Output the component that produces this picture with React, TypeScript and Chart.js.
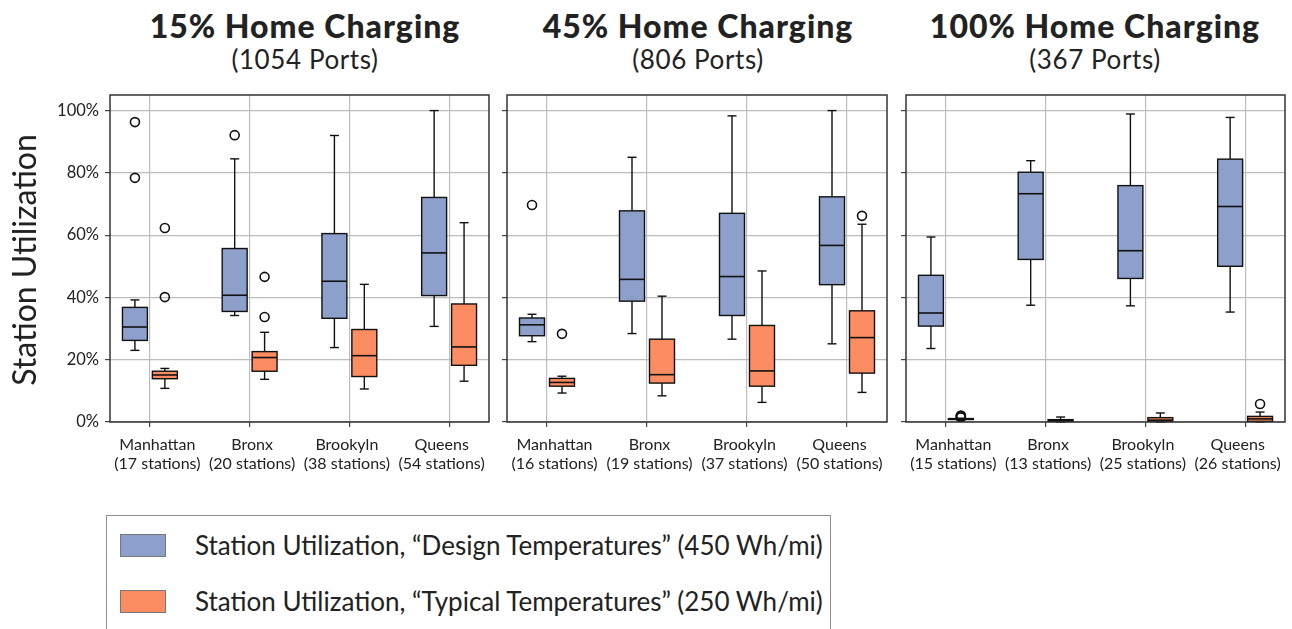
import React, { useEffect, useRef } from 'react';
import { Chart, registerables } from 'chart.js';

Chart.register(...registerables);

// ---------- DATA ----------
const districts = ['Manhattan', 'Bronx', 'Brookyln', 'Queens'];
const panelTitles = ['15% Home Charging', '45% Home Charging', '100% Home Charging'];
const panelPorts = ['(1054 Ports)', '(806 Ports)', '(367 Ports)'];
const stations15 = [17, 20, 38, 54];
const stations45 = [16, 19, 37, 50];
const stations100 = [15, 13, 25, 26];
const yTicks = [0, 20, 40, 60, 80, 100];

// box stats: [low whisker, Q1, median, Q3, high whisker] in %
const design15 = [
  [23.0, 26.2, 30.5, 36.8, 39.2],
  [34.2, 35.5, 40.7, 55.7, 84.5],
  [23.9, 33.3, 45.2, 60.5, 92.0],
  [30.7, 40.6, 54.3, 72.1, 100],
];
const typical15 = [
  [10.8, 13.9, 15.1, 16.3, 17.2],
  [13.7, 16.3, 20.7, 22.6, 28.8],
  [10.6, 14.6, 21.3, 29.7, 44.2],
  [13.1, 18.2, 24.1, 37.9, 64.0],
];
const designOut15 = [[96.3, 78.4], [92.1], [], []];
const typicalOut15 = [[62.3, 40.1], [46.6, 33.7], [], []];

const design45 = [
  [25.8, 27.7, 31.2, 33.4, 34.6],
  [28.4, 38.8, 45.8, 67.8, 85.0],
  [26.6, 34.2, 46.7, 67.0, 98.3],
  [25.1, 44.1, 56.7, 72.3, 100],
];
const typical45 = [
  [9.3, 11.5, 12.7, 14.0, 14.7],
  [8.4, 12.5, 15.2, 26.6, 40.4],
  [6.3, 11.5, 16.4, 31.0, 48.5],
  [9.5, 15.7, 27.1, 35.7, 63.5],
];
const designOut45 = [[69.7], [], [], []];
const typicalOut45 = [[28.3], [], [], [66.2]];

const design100 = [
  [23.6, 30.8, 35.0, 47.1, 59.4],
  [37.5, 52.2, 73.3, 80.2, 83.9],
  [37.3, 46.1, 55.0, 75.9, 98.9],
  [35.3, 50.0, 69.2, 84.4, 97.8],
];
const typical100 = [
  [0.6, 0.8, 1.0, 1.1, 1.2],
  [0.0, 0.2, 0.4, 0.75, 1.6],
  [0.0, 0.2, 0.6, 1.4, 2.9],
  [0.0, 0.2, 1.0, 1.8, 3.2],
];
const designOut100 = [[], [], [], []];
const typicalOut100 = [[1.5, 1.7, 1.9, 2.1], [], [], [5.8]];

const legendLabels = [
  'Station Utilization, \u201cDesign Temperatures\u201d (450 Wh/mi)',
  'Station Utilization, \u201cTypical Temperatures\u201d (250 Wh/mi)',
];

// ---------- STYLE ----------
const BLUE = '#8DA0CB';
const ORANGE = '#FC8D62';
const FONT = "Lato, 'Noto Sans', sans-serif";
const TEXT = '#222';
const BOX_W = 0.25;
const CAP_HALF = 0.045;
const OFFSET = 0.15;

const panels = [
  { design: design15, typical: typical15, dOut: designOut15, tOut: typicalOut15, stations: stations15 },
  { design: design45, typical: typical45, dOut: designOut45, tOut: typicalOut45, stations: stations45 },
  { design: design100, typical: typical100, dOut: designOut100, tOut: typicalOut100, stations: stations100 },
];

const layouts = [
  { left: 0, width: 500, yWidth: 110, rightPad: 11, titleX: 305 },
  { left: 497, width: 401, yWidth: 10, rightPad: 11, titleX: 698 },
  { left: 896, width: 396, yWidth: 10, rightPad: 7, titleX: 1095 },
];
const CANVAS_TOP = 88;
const CANVAS_H = 392;

function makeBoxPlugin(p: number) {
  const groups = [
    { boxes: panels[p].design, offset: -OFFSET, color: BLUE },
    { boxes: panels[p].typical, offset: OFFSET, color: ORANGE },
  ];
  return {
    id: 'boxes' + p,
    beforeDatasetsDraw(chart: any) {
      const { ctx } = chart;
      const x = chart.scales.x;
      const y = chart.scales.y;
      ctx.save();
      ctx.strokeStyle = '#111';
      ctx.lineWidth = 1.4;
      const line = (x1: number, y1: number, x2: number, y2: number) => {
        ctx.beginPath();
        ctx.moveTo(x1, y1);
        ctx.lineTo(x2, y2);
        ctx.stroke();
      };
      for (const g of groups) {
        g.boxes.forEach((b: number[], i: number) => {
          const [lo, q1, med, q3, hi] = b;
          const cx = i + 1 + g.offset;
          const xc = x.getPixelForValue(cx);
          const xl = x.getPixelForValue(cx - BOX_W / 2);
          const xr = x.getPixelForValue(cx + BOX_W / 2);
          const cl = x.getPixelForValue(cx - CAP_HALF);
          const cr = x.getPixelForValue(cx + CAP_HALF);
          const yLo = y.getPixelForValue(lo);
          const yQ1 = y.getPixelForValue(q1);
          const yMed = y.getPixelForValue(med);
          const yQ3 = y.getPixelForValue(q3);
          const yHi = y.getPixelForValue(hi);
          line(xc, yQ3, xc, yHi);
          line(cl, yHi, cr, yHi);
          line(xc, yQ1, xc, yLo);
          line(cl, yLo, cr, yLo);
          ctx.fillStyle = g.color;
          ctx.fillRect(xl, yQ3, xr - xl, yQ1 - yQ3);
          ctx.strokeRect(xl, yQ3, xr - xl, yQ1 - yQ3);
          ctx.lineWidth = 1.6;
          line(xl, yMed, xr, yMed);
          ctx.lineWidth = 1.4;
        });
      }
      ctx.restore();
    },
    afterDraw(chart: any) {
      const { ctx, chartArea: a } = chart;
      ctx.save();
      ctx.strokeStyle = '#333';
      ctx.lineWidth = 1.5;
      ctx.strokeRect(a.left, a.top, a.right - a.left, a.bottom - a.top);
      ctx.restore();
    },
  };
}

function outlierPoints(vals: number[][], offset: number) {
  const pts: { x: number; y: number }[] = [];
  vals.forEach((arr, i) => arr.forEach((v) => pts.push({ x: i + 1 + offset, y: v })));
  return pts;
}

function Panel({ p }: { p: number }) {
  const ref = useRef<HTMLCanvasElement>(null);
  const L = layouts[p];
  useEffect(() => {
    const pd = panels[p];
    const gridColor = '#bdbdbd';
    const noPad = (s: any) => {
      s.paddingTop = 0;
      s.paddingBottom = 0;
      s.paddingLeft = 0;
      s.paddingRight = 0;
    };
    const chart = new Chart(ref.current as HTMLCanvasElement, {
      type: 'scatter',
      data: {
        datasets: [
          {
            data: outlierPoints(pd.dOut, -OFFSET),
            pointRadius: 4.5,
            pointBorderWidth: 1.6,
            pointBorderColor: '#111',
            pointBackgroundColor: 'rgba(0,0,0,0)',
          },
          {
            data: outlierPoints(pd.tOut, OFFSET),
            pointRadius: 4.5,
            pointBorderWidth: 1.6,
            pointBorderColor: '#111',
            pointBackgroundColor: 'rgba(0,0,0,0)',
          },
        ],
      },
      options: {
        responsive: false,
        animation: false,
        layout: { padding: { top: 7, right: L.rightPad, left: 0, bottom: 0 } },
        plugins: { legend: { display: false }, tooltip: { enabled: false } },
        scales: {
          x: {
            type: 'linear',
            position: 'bottom',
            weight: 0,
            min: 0.6,
            max: 4.4,
            afterBuildTicks: (s: any) => {
              s.ticks = [1, 2, 3, 4].map((v) => ({ value: v }));
            },
            afterFit: (s: any) => {
              s.height = 5;
              noPad(s);
            },
            ticks: { display: false },
            grid: { color: gridColor, lineWidth: 1.2, tickColor: '#444', tickLength: 5, drawTicks: true },
            border: { display: false },
          },
          x2: {
            type: 'category',
            position: 'bottom',
            weight: 1,
            labels: districts.map((d, i) => [d, `(${pd.stations[i]} stations)`]),
            offset: true,
            afterFit: (s: any) => {
              s.height = 53;
              noPad(s);
            },
            ticks: { font: { family: FONT, size: 16, lineHeight: 1.2 }, color: TEXT, padding: 0, maxRotation: 0, autoSkip: false },
            grid: { display: false },
            border: { display: false },
          },
          y: {
            type: 'linear',
            min: 0,
            max: 105,
            afterBuildTicks: (s: any) => {
              s.ticks = yTicks.map((v) => ({ value: v }));
            },
            afterFit: (s: any) => {
              s.width = L.yWidth;
              noPad(s);
            },
            ticks: {
              callback: (v: any) => (p === 0 ? `${v}%` : ''),
              font: { family: FONT, size: 16.5 },
              color: TEXT,
              padding: 6,
            },
            grid: { color: gridColor, lineWidth: 1.2, tickColor: '#444', tickLength: 5 },
            border: { display: false },
          },
        },
      },
      plugins: [makeBoxPlugin(p)],
    } as any);
    return () => chart.destroy();
  }, [p]);
  return (
    <canvas
      ref={ref}
      width={L.width}
      height={CANVAS_H}
      style={{ position: 'absolute', left: L.left, top: CANVAS_TOP, width: L.width, height: CANVAS_H }}
    />
  );
}

export default function App() {
  return (
    <div
      style={{
        position: 'fixed',
        left: 0,
        top: 0,
        width: 1292,
        height: 629,
        overflow: 'hidden',
        background: '#fff',
        fontFamily: FONT,
        color: TEXT,
      }}
    >
      {layouts.map((L, p) => (
        <React.Fragment key={p}>
          <div
            style={{
              position: 'absolute',
              left: L.titleX - 250,
              width: 500,
              top: 10,
              textAlign: 'center',
              fontSize: 32,
              lineHeight: '32px',
              fontWeight: 900,
              letterSpacing: 1,
              whiteSpace: 'nowrap',
            }}
          >
            {panelTitles[p]}
          </div>
          <div
            style={{
              position: 'absolute',
              left: L.titleX - 250,
              width: 500,
              top: 46,
              textAlign: 'center',
              fontSize: 26,
              lineHeight: '26px',
              letterSpacing: 0.6,
              whiteSpace: 'nowrap',
            }}
          >
            {panelPorts[p]}
          </div>
          <Panel p={p} />
        </React.Fragment>
      ))}
      <div
        style={{
          position: 'absolute',
          left: 24 - 150,
          top: 260 - 20,
          width: 300,
          height: 40,
          lineHeight: '40px',
          textAlign: 'center',
          fontSize: 32,
          transform: 'rotate(-90deg)',
          whiteSpace: 'nowrap',
        }}
      >
        Station Utilization
      </div>
      <div
        style={{
          position: 'absolute',
          left: 106,
          top: 515,
          width: 725,
          height: 140,
          border: '1.5px solid #8c8c8c',
          boxSizing: 'border-box',
        }}
      />
      {legendLabels.map((t, i) => (
        <React.Fragment key={t}>
          <div
            style={{
              position: 'absolute',
              left: 120,
              top: 534 + i * 56,
              width: 46,
              height: 23,
              boxSizing: 'border-box',
              border: '1.5px solid #777',
              background: i === 0 ? BLUE : ORANGE,
            }}
          />
          <div
            style={{
              position: 'absolute',
              left: 195,
              top: 545 + i * 56 - 16,
              height: 32,
              lineHeight: '32px',
              fontSize: 26,
              whiteSpace: 'nowrap',
            }}
          >
            {t}
          </div>
        </React.Fragment>
      ))}
    </div>
  );
}
